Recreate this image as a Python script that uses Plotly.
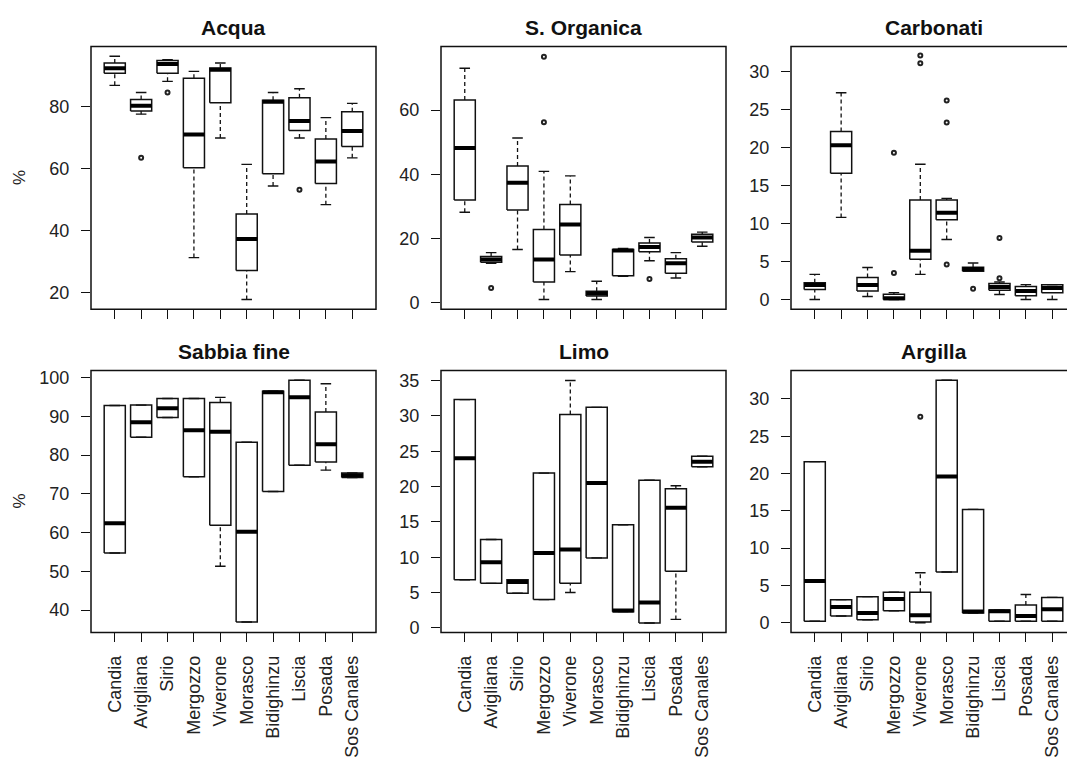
import plotly.graph_objects as go

sites = ["Candia", "Avigliana", "Sirio", "Mergozzo", "Viverone", "Morasco",
         "Bidighinzu", "Liscia", "Posada", "Sos Canales"]

# ---- Acqua ----
acqua_low = [86.9, 77.6, 88.2, 31.3, 69.9, 17.8, 54.4, 69.9, 48.4, 63.5]
acqua_q1 = [90.8, 78.6, 90.8, 60.3, 81.3, 27.1, 58.4, 72.3, 55.2, 67.2]
acqua_med = [92.4, 80.3, 93.8, 71.0, 91.9, 37.3, 81.6, 75.4, 62.3, 72.2]
acqua_q3 = [94.1, 82.3, 94.9, 89.2, 92.5, 45.4, 82.1, 82.9, 69.6, 78.4]
acqua_up = [96.3, 84.6, 95.2, 91.4, 94.1, 61.4, 84.6, 85.8, 76.5, 81.1]
acqua_out = [[], [63.5], [84.6], [], [], [], [], [53.2], [], []]

# ---- S. Organica ----
sorg_low = [28.2, 12.3, 16.6, 1.0, 9.7, 1.0, 8.2, 13.1, 7.7, 17.6]
sorg_q1 = [32.0, 12.6, 28.9, 6.5, 14.9, 2.1, 8.4, 15.9, 9.2, 18.9]
sorg_med = [48.2, 13.5, 37.4, 13.5, 24.4, 2.9, 16.3, 17.4, 12.3, 20.3]
sorg_q3 = [63.1, 14.4, 42.6, 22.8, 30.6, 3.6, 16.6, 18.6, 13.7, 21.3]
sorg_up = [73.0, 15.6, 51.3, 40.9, 39.5, 6.7, 16.9, 20.3, 15.6, 22.0]
sorg_out = [[], [4.6], [], [56.2, 76.6], [], [], [], [7.4], [], []]

# ---- Carbonati ----
carb_low = [0.0, 10.8, 0.4, 0.0, 3.3, 7.9, 3.7, 0.65, 0.0, 0.0]
carb_q1 = [1.3, 16.6, 1.1, 0.0, 5.3, 10.5, 3.7, 1.2, 0.5, 0.87]
carb_med = [1.9, 20.3, 1.9, 0.15, 6.4, 11.4, 4.0, 1.65, 1.1, 1.5]
carb_q3 = [2.2, 22.1, 2.9, 0.7, 13.1, 13.1, 4.25, 2.1, 1.7, 1.95]
carb_up = [3.3, 27.2, 4.2, 0.9, 17.8, 13.3, 4.8, 2.3, 1.95, 1.95]
carb_out = [[], [], [], [3.5, 19.3], [31.1, 32.1], [4.6, 23.3, 26.2], [1.4], [2.8, 8.1], [], []]

# ---- Sabbia fine ----
sab_low = [54.7, 84.6, 89.7, 74.4, 51.3, 36.9, 70.6, 77.4, 76.1, 74.2]
sab_q1 = [54.7, 84.6, 89.7, 74.4, 61.9, 36.9, 70.6, 77.4, 78.2, 74.2]
sab_med = [62.4, 88.5, 92.1, 86.4, 86.0, 60.2, 96.2, 94.9, 82.8, 74.8]
sab_q3 = [92.8, 92.9, 94.6, 94.6, 93.6, 83.3, 96.5, 99.3, 91.1, 75.4]
sab_up = [92.8, 92.9, 94.6, 94.6, 94.9, 83.3, 96.5, 99.3, 98.4, 75.4]
sab_out = [[], [], [], [], [], [], [], [], [], []]

# ---- Limo ----
limo_low = [6.8, 6.3, 4.9, 4.0, 5.0, 9.9, 2.3, 0.7, 1.2, 22.8]
limo_q1 = [6.8, 6.3, 4.9, 4.0, 6.3, 9.9, 2.3, 0.7, 8.0, 22.8]
limo_med = [24.0, 9.3, 6.5, 10.6, 11.1, 20.5, 2.45, 3.6, 17.0, 23.5]
limo_q3 = [32.3, 12.5, 6.8, 21.9, 30.2, 31.2, 14.6, 20.9, 19.7, 24.3]
limo_up = [32.3, 12.5, 6.8, 21.9, 35.0, 31.2, 14.6, 20.9, 20.1, 24.3]
limo_out = [[], [], [], [], [], [], [], [], [], []]

# ---- Argilla ----
arg_low = [0.2, 0.9, 0.4, 1.6, 0.0, 6.8, 1.3, 0.2, 0.2, 0.2]
arg_q1 = [0.2, 0.9, 0.4, 1.6, 0.1, 6.8, 1.3, 0.2, 0.2, 0.2]
arg_med = [5.6, 2.1, 1.3, 3.2, 1.0, 19.6, 1.5, 1.55, 0.9, 1.8]
arg_q3 = [21.6, 3.1, 3.5, 4.1, 4.1, 32.5, 15.2, 1.7, 2.4, 3.4]
arg_up = [21.6, 3.1, 3.5, 4.1, 6.7, 32.5, 15.2, 1.7, 3.8, 3.4]
arg_out = [[], [], [], [], [27.6], [], [], [], [], []]

titles = ["Acqua", "S. Organica", "Carbonati", "Sabbia fine", "Limo", "Argilla"]
y_ranges = [[14.6, 99.45], [-2.05, 79.8], [-1.3, 33.3],
            [34.2, 101.8], [-0.65, 36.4], [-1.3, 33.8]]
y_dticks = [20, 20, 5, 10, 5, 5]

panels = [
    (acqua_low, acqua_q1, acqua_med, acqua_q3, acqua_up, acqua_out),
    (sorg_low, sorg_q1, sorg_med, sorg_q3, sorg_up, sorg_out),
    (carb_low, carb_q1, carb_med, carb_q3, carb_up, carb_out),
    (sab_low, sab_q1, sab_med, sab_q3, sab_up, sab_out),
    (limo_low, limo_q1, limo_med, limo_q3, limo_up, limo_out),
    (arg_low, arg_q1, arg_med, arg_q3, arg_up, arg_out),
]

W, H = 1067, 763
col_px = [(91, 376), (441, 726), (791, 1076)]
row_px = [(44, 310), (372, 637)]

HALF = 0.4
CAP = 0.2
INK = "#111111"
FONT = "Liberation Sans, Arial, sans-serif"

fig = go.Figure()

for p, (low, q1, med, q3, up, outs) in enumerate(panels):
    r, c = divmod(p, 3)
    ax = "" if p == 0 else str(p + 1)
    xa, ya = "x" + ax, "y" + ax
    bx, by, mx, my, wx, wy, cx, cy, ox, oy = [], [], [], [], [], [], [], [], [], []
    for i in range(len(sites)):
        x = i + 1
        bx += [x - HALF, x + HALF, x + HALF, x - HALF, x - HALF, None]
        by += [q1[i], q1[i], q3[i], q3[i], q1[i], None]
        mx += [x - HALF, x + HALF, None]
        my += [med[i], med[i], None]
        if up[i] > q3[i]:
            wx += [x, x, None]
            wy += [q3[i], up[i], None]
        if low[i] < q1[i]:
            wx += [x, x, None]
            wy += [low[i], q1[i], None]
        cx += [x - CAP, x + CAP, None, x - CAP, x + CAP, None]
        cy += [up[i], up[i], None, low[i], low[i], None]
        for v in outs[i]:
            ox.append(x)
            oy.append(v)
    common = dict(xaxis=xa, yaxis=ya, showlegend=False, hoverinfo="skip")
    fig.add_trace(go.Scatter(x=wx, y=wy, mode="lines",
                             line=dict(color=INK, width=1.3, dash="4px,3px"), **common))
    fig.add_trace(go.Scatter(x=cx, y=cy, mode="lines",
                             line=dict(color=INK, width=1.4), **common))
    fig.add_trace(go.Scatter(x=bx, y=by, mode="lines",
                             line=dict(color=INK, width=1.5), **common))
    fig.add_trace(go.Scatter(x=mx, y=my, mode="lines",
                             line=dict(color="#000000", width=4), **common))
    if ox:
        fig.add_trace(go.Scatter(x=ox, y=oy, mode="markers",
                                 marker=dict(symbol="circle-open", size=4, color="#222",
                                             line=dict(width=2)), **common))

    x0, x1 = col_px[c]
    y0, y1 = row_px[r]
    x1_clip = min(x1, W)
    unit = (x1 - x0) / 10.8
    xr_hi = 0.1 + (x1_clip - x0) / unit
    dom_x = [x0 / W, x1_clip / W]
    dom_y = [1 - y1 / H, 1 - y0 / H]
    xkey = "xaxis" + ax
    ykey = "yaxis" + ax
    fig.layout[xkey] = dict(
        domain=dom_x, range=[0.1, xr_hi], anchor=ya,
        tickmode="array", tickvals=list(range(1, 11)), ticktext=sites,
        showticklabels=(r == 1), tickangle=-90,
        ticks="outside", ticklen=9, tickwidth=1.2, tickcolor=INK,
        showgrid=False, zeroline=False, showline=False,
        tickfont=dict(family=FONT, size=18, color="#222"),
        ticklabelstandoff=6,
    )
    fig.layout[ykey] = dict(
        domain=dom_y, range=y_ranges[p], anchor=xa,
        tick0=0, dtick=y_dticks[p],
        ticks="outside", ticklen=9, tickwidth=1.2, tickcolor=INK,
        showgrid=False, zeroline=False, showline=False,
        tickfont=dict(family=FONT, size=18, color="#222"),
        ticklabelstandoff=8,
    )
    # panel frame
    fig.add_shape(type="rect", xref="paper", yref="paper",
                  x0=x0 / W, x1=x1 / W, y0=1 - y1 / H, y1=1 - y0 / H,
                  line=dict(color=INK, width=1.5), fillcolor="rgba(0,0,0,0)", layer="above")
    # title
    fig.add_annotation(text="<b>" + titles[p] + "</b>", xref="paper", yref="paper",
                       x=(x0 + x1) / 2 / W, y=1 - (y0 - 19.5) / H,
                       xanchor="center", yanchor="middle", showarrow=False,
                       font=dict(family=FONT, size=21, color="#111"))
    if c == 0:
        fig.add_annotation(text="%", xref="paper", yref="paper",
                           x=20 / W, y=1 - (y0 + y1) / 2 / H, textangle=-90,
                           xanchor="center", yanchor="middle", showarrow=False,
                           font=dict(family=FONT, size=17, color="#222"))

fig.update_layout(
    width=W, height=H,
    margin=dict(l=0, r=0, t=0, b=0),
    paper_bgcolor="white", plot_bgcolor="white",
)

fig.write_html("out.html")
